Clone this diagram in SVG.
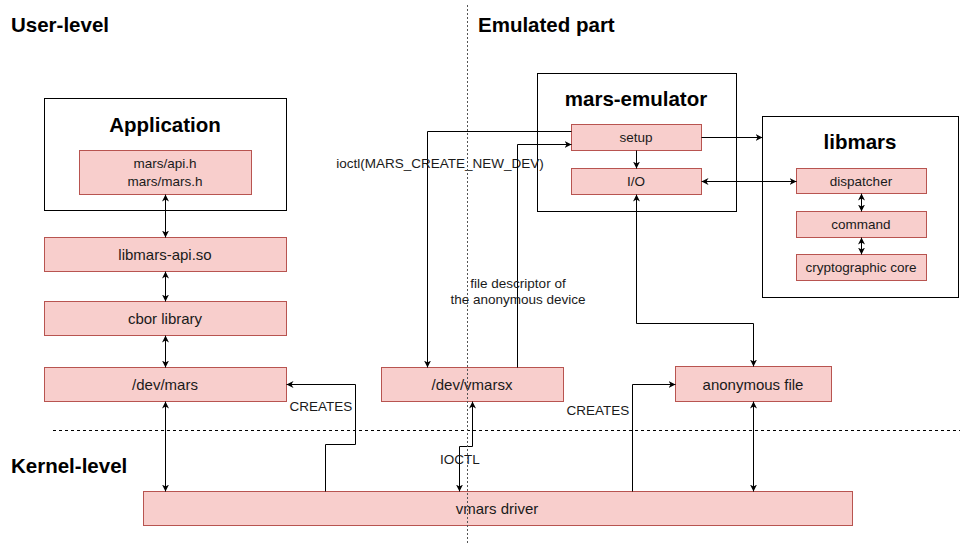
<svg xmlns="http://www.w3.org/2000/svg" width="960" height="545" viewBox="0 0 960 545">
  <style>
    .frame { fill: #ffffff; stroke: #000000; stroke-width: 1; }
    .box { fill: #f8cecc; stroke: #b85450; stroke-width: 1; }
    .title { font-family: "Liberation Sans", Arial, sans-serif; font-weight: bold; font-size: 20.5px; fill: #000000; }
    .big { font-family: "Liberation Sans", Arial, sans-serif; font-size: 15px; fill: #1a1a1a; text-anchor: middle; dominant-baseline: central; }
    .small { font-family: "Liberation Sans", Arial, sans-serif; font-size: 13.5px; fill: #1a1a1a; text-anchor: middle; dominant-baseline: central; }
    .edge { fill: none; stroke: #000000; stroke-width: 1; }
    .sep { fill: none; stroke: #000000; stroke-width: 1; stroke-dasharray: 3 3; }
    .vsep { fill: none; stroke: #555555; stroke-width: 1; stroke-dasharray: 2 2; }
  </style>
  <defs>
    <marker id="arr" viewBox="0 0 10 10" refX="10" refY="5" markerWidth="7" markerHeight="7" markerUnits="userSpaceOnUse" orient="auto-start-reverse">
      <path d="M0,0 L10,5 L0,10 L3,5 Z" fill="#000000"/>
    </marker>
  </defs>

  <rect width="960" height="545" fill="#ffffff"/>

  <!-- level headings -->
  <text class="title" x="11" y="32">User-level</text>
  <text class="title" x="478" y="32">Emulated part</text>
  <text class="title" x="11" y="473">Kernel-level</text>

  <!-- user / kernel separator -->
  <line class="sep" x1="53" y1="430.5" x2="960" y2="430.5"/>

  <!-- Application -->
  <g id="application">
    <rect class="frame" x="44.5" y="98.5" width="242" height="112"/>
    <text class="title" x="165" y="132" text-anchor="middle">Application</text>
    <rect class="box" x="79.5" y="150.5" width="172" height="44"/>
    <text class="small" x="165" y="163">mars/api.h</text>
    <text class="small" x="165" y="181">mars/mars.h</text>
  </g>

  <g id="libmars-api">
    <rect class="box" x="44.5" y="237.5" width="242" height="34"/>
    <text class="big" x="165" y="254">libmars-api.so</text>
  </g>

  <g id="cbor">
    <rect class="box" x="44.5" y="301.5" width="242" height="34"/>
    <text class="big" x="165" y="318">cbor library</text>
  </g>

  <g id="dev-mars">
    <rect class="box" x="44.5" y="367.5" width="242" height="34"/>
    <text class="big" x="165" y="384">/dev/mars</text>
  </g>

  <g id="dev-vmarsx">
    <rect class="box" x="381.5" y="367.5" width="182" height="34"/>
    <text class="big" x="472" y="384">/dev/vmarsx</text>
  </g>

  <g id="anonymous-file">
    <rect class="box" x="675.5" y="366.5" width="156" height="35"/>
    <text class="big" x="753" y="384">anonymous file</text>
  </g>

  <g id="vmars-driver">
    <rect class="box" x="143.5" y="491.5" width="709" height="34"/>
    <text class="big" x="497" y="508">vmars driver</text>
  </g>

  <!-- mars-emulator -->
  <g id="mars-emulator">
    <rect class="frame" x="537.5" y="73.5" width="199" height="138"/>
    <text class="title" x="636" y="106" text-anchor="middle">mars-emulator</text>
  </g>
  <g id="setup">
    <rect class="box" x="571.5" y="124.5" width="130" height="26"/>
    <text class="small" x="636" y="137">setup</text>
  </g>
  <g id="io">
    <rect class="box" x="571.5" y="168.5" width="130" height="26"/>
    <text class="small" x="636" y="181">I/O</text>
  </g>

  <!-- libmars -->
  <g id="libmars">
    <rect class="frame" x="762.5" y="116.5" width="196" height="181"/>
    <text class="title" x="860" y="149" text-anchor="middle">libmars</text>
  </g>
  <g id="dispatcher">
    <rect class="box" x="796.5" y="168.5" width="130" height="25"/>
    <text class="small" x="861" y="181">dispatcher</text>
  </g>
  <g id="command">
    <rect class="box" x="796.5" y="211.5" width="130" height="26"/>
    <text class="small" x="861" y="224">command</text>
  </g>
  <g id="crypto-core">
    <rect class="box" x="796.5" y="254.5" width="130" height="26"/>
    <text class="small" x="861" y="267">cryptographic core</text>
  </g>

  <!-- connectors -->
  <g id="connectors">
    <path class="edge" d="M165.5,194.5 V237.5" marker-start="url(#arr)" marker-end="url(#arr)"/>
    <path class="edge" d="M165.5,271.5 V301.5" marker-start="url(#arr)" marker-end="url(#arr)"/>
    <path class="edge" d="M165.5,335.5 V367.5" marker-start="url(#arr)" marker-end="url(#arr)"/>
    <path class="edge" d="M165.5,401.5 V491.5" marker-start="url(#arr)" marker-end="url(#arr)"/>

    <!-- driver creates /dev/mars -->
    <path class="edge" d="M325.5,491.5 V444.5 H355.5 V384.5 H286.5" marker-end="url(#arr)"/>
    <text class="small" x="321" y="406">CREATES</text>

    <!-- ioctl between driver and /dev/vmarsx -->
    <path class="edge" d="M459.5,491.5 V446.5 H472.5 V401.5" marker-start="url(#arr)" marker-end="url(#arr)"/>
    <text class="small" x="460" y="459">IOCTL</text>

    <!-- setup asks for a new device -->
    <path class="edge" d="M571.5,131.5 H427.5 V367.5" marker-end="url(#arr)"/>
    <text class="small" x="440" y="163">ioctl(MARS_CREATE_NEW_DEV)</text>

    <!-- descriptor returned to setup -->
    <path class="edge" d="M517.5,367.5 V144.5 H571.5" marker-end="url(#arr)"/>
    <text class="small" x="518" y="283">file descriptor of</text>
    <text class="small" x="518" y="299">the anonymous device</text>

    <!-- emulator internals -->
    <path class="edge" d="M636.5,150.5 V168.5" marker-end="url(#arr)"/>
    <path class="edge" d="M701.5,137.5 H762.5" marker-end="url(#arr)"/>
    <path class="edge" d="M701.5,181.5 H796.5" marker-start="url(#arr)" marker-end="url(#arr)"/>

    <!-- libmars internals -->
    <path class="edge" d="M861.5,193.5 V211.5" marker-start="url(#arr)" marker-end="url(#arr)"/>
    <path class="edge" d="M861.5,237.5 V254.5" marker-start="url(#arr)" marker-end="url(#arr)"/>

    <!-- I/O with the anonymous file -->
    <path class="edge" d="M636.5,194.5 V323.5 H753.5 V366.5" marker-start="url(#arr)" marker-end="url(#arr)"/>
    <path class="edge" d="M753.5,401.5 V491.5" marker-start="url(#arr)" marker-end="url(#arr)"/>

    <!-- driver creates the anonymous file -->
    <path class="edge" d="M632.5,491.5 V384.5 H675.5" marker-end="url(#arr)"/>
    <text class="small" x="598" y="410">CREATES</text>
  </g>

  <!-- user-level / emulated separator -->
  <line class="vsep" x1="467.5" y1="5" x2="467.5" y2="545"/>
</svg>
